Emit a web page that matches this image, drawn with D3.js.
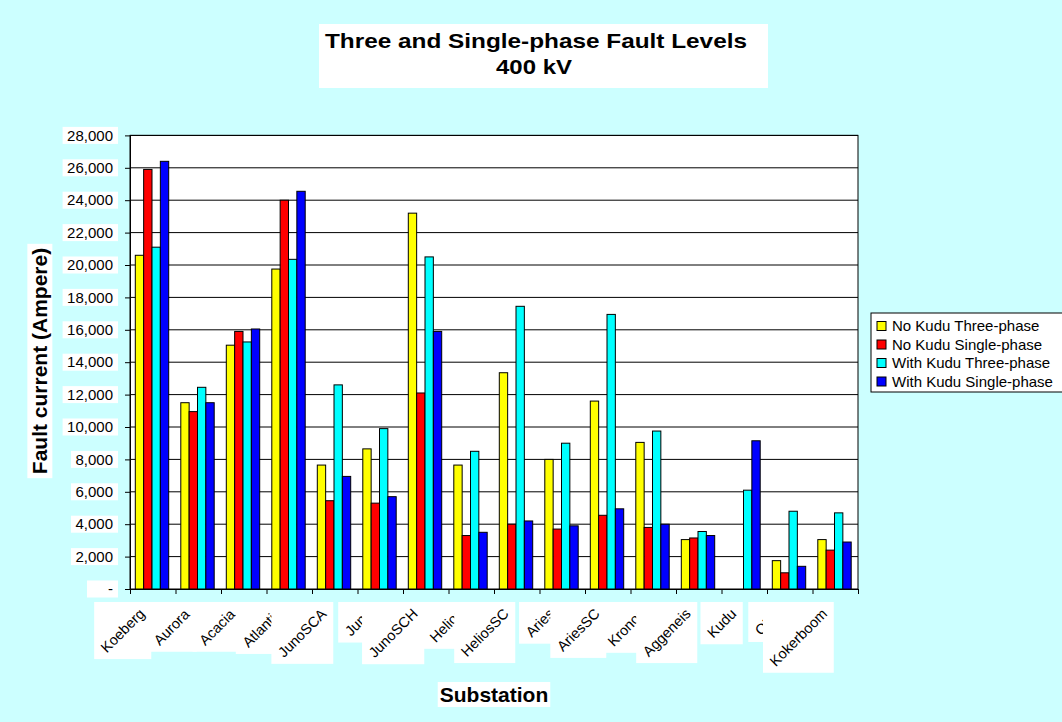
<!DOCTYPE html>
<html lang="en">
<head>
<meta charset="UTF-8">
<title>Three and Single-phase Fault Levels</title>
<script src="https://cdn.jsdelivr.net/npm/d3@7"></script>
<style>
    body { margin: 0; background: #ccffff; }
    svg { display: block; font-family: Arial, "Liberation Sans", sans-serif; }
</style>
</head>
<body>
<script type="text/javascript">
    var categories = ['Koeberg', 'Aurora', 'Acacia', 'Atlantis', 'JunoSCA', 'Juno', 'JunoSCH', 'Helios',
        'HeliosSC', 'Aries', 'AriesSC', 'Kronos', 'Aggeneis', 'Kudu', 'Obib', 'Kokerboom'];
    var noKuduThree = [20600, 11500, 15050, 19750, 7650, 8650, 23200, 7650, 13350, 8000, 11600, 9050, 3050, null, 1750, 3050];
    var noKuduSingle = [25900, 10950, 15900, 24000, 5450, 5300, 12100, 3300, 4000, 3700, 4550, 3800, 3150, null, 1000, 2400];
    var withKuduThree = [21100, 12450, 15250, 20350, 12600, 9900, 20500, 8500, 17450, 9000, 16950, 9750, 3550, 6100, 4800, 4700];
    var withKuduSingle = [26400, 11500, 16050, 24550, 6950, 5700, 15900, 3500, 4200, 3900, 4950, 4000, 3300, 9150, 1400, 2900];
    var seriesNames = ['No Kudu Three-phase', 'No Kudu Single-phase', 'With Kudu Three-phase', 'With Kudu Single-phase'];
    var seriesColors = ['#ffff00', '#ff0000', '#00ffff', '#0000ff'];
    var yTickValues = [0, 2000, 4000, 6000, 8000, 10000, 12000, 14000, 16000, 18000, 20000, 22000, 24000, 26000, 28000];

    var series = [noKuduThree, noKuduSingle, withKuduThree, withKuduSingle];
    var W = 1062, H = 722;
    var plotL = 130, plotR = 858, plotT = 135.4, plotB = 589;

    var svg = d3.select('body').append('svg')
            .attr('width', W)
            .attr('height', H);

    svg.append('rect')
            .attr('width', W).attr('height', H)
            .attr('fill', '#ccffff');

    var x = d3.scaleBand().domain(categories).range([plotL, plotR]);
    var xs = d3.scaleBand().domain(d3.range(series.length)).range([5.3, x.bandwidth() - 6.8]);
    var xEdge = d3.scaleLinear().domain([0, categories.length]).range([plotL, plotR]);
    var y = d3.scaleLinear().domain([0, 28000]).range([plotB, plotT]);
    var fmt = d3.format(',');

    // plot area
    svg.append('rect')
            .attr('x', plotL).attr('y', plotT)
            .attr('width', plotR - plotL).attr('height', plotB - plotT)
            .attr('fill', '#fff')
            .attr('stroke', '#000');

    svg.append('g').selectAll('line')
            .data(yTickValues.filter(function (d) { return d > 0; }))
            .enter().append('line')
            .attr('x1', plotL).attr('x2', plotR)
            .attr('y1', function (d) { return y(d); })
            .attr('y2', function (d) { return y(d); })
            .attr('stroke', '#000')
            .attr('stroke-width', 1);

    // bars
    series.forEach(function (vals, s) {
        svg.append('g').selectAll('rect')
                .data(vals.map(function (v, i) { return {c: categories[i], v: v}; })
                        .filter(function (d) { return d.v != null; }))
                .enter().append('rect')
                .attr('x', function (d) { return x(d.c) + xs(s); })
                .attr('y', function (d) { return y(d.v); })
                .attr('width', xs.bandwidth())
                .attr('height', function (d) { return y(0) - y(d.v); })
                .attr('fill', seriesColors[s])
                .attr('stroke', '#000')
                .attr('stroke-width', 1);
    });

    // axes
    svg.append('g')
            .attr('transform', 'translate(' + plotL + ',0)')
            .call(d3.axisLeft(y).tickValues(yTickValues).tickSize(5).tickSizeOuter(0).tickFormat(''))
            .call(function (g) { g.selectAll('line,path').attr('stroke', '#000'); });

    svg.append('g')
            .attr('transform', 'translate(0,' + plotB + ')')
            .call(d3.axisBottom(xEdge).tickValues(d3.range(categories.length + 1)).tickSize(5).tickSizeOuter(0).tickFormat(''))
            .call(function (g) { g.selectAll('line,path').attr('stroke', '#000'); });

    // y tick labels with white boxes
    yTickValues.forEach(function (v) {
        var g = svg.append('g');
        var box = g.append('rect').attr('fill', '#fff');
        var t = g.append('text')
                .attr('x', 113).attr('y', y(v))
                .attr('dy', '0.35em')
                .attr('text-anchor', 'end')
                .attr('font-size', 15)
                .attr('fill', '#000')
                .text(v === 0 ? '-' : fmt(v));
        var bb = t.node().getBBox();
        var bw = v === 0 ? 31 : bb.width + 9.5;
        box.attr('x', 118 - bw).attr('y', y(v) - 8.5)
                .attr('width', bw).attr('height', 17);
    });

    // x labels, each with its own white box, later ones covering earlier ones
    categories.forEach(function (c) {
        var g = svg.append('g');
        var box = g.append('rect').attr('fill', '#fff');
        var t = g.append('text')
                .attr('transform', 'rotate(-45)')
                .attr('text-anchor', 'end')
                .attr('font-size', 14.5)
                .attr('fill', '#000')
                .text(c);
        var bb = t.node().getBoundingClientRect();
        var pad = 3.5;
        var bw = bb.width + 2 * pad, bh = bb.height + 2 * pad;
        var bx = x(c) + x.bandwidth() / 2 - 1.5 - bw, by = 602;
        g.attr('transform', 'translate(' + (bx - (bb.x - pad)) + ',' + (by - (bb.y - pad)) + ')');
        box.attr('x', bb.x - pad).attr('y', bb.y - pad).attr('width', bw).attr('height', bh);
    });

    // title
    svg.append('rect')
            .attr('x', 319).attr('y', 24)
            .attr('width', 449).attr('height', 64)
            .attr('fill', '#fff');
    svg.append('text')
            .attr('x', 536).attr('y', 48)
            .attr('text-anchor', 'middle')
            .attr('font-size', 21).attr('font-weight', 'bold')
            .attr('textLength', 422).attr('lengthAdjust', 'spacingAndGlyphs')
            .text('Three and Single-phase Fault Levels');
    svg.append('text')
            .attr('x', 534).attr('y', 74)
            .attr('text-anchor', 'middle')
            .attr('font-size', 21).attr('font-weight', 'bold')
            .attr('textLength', 76).attr('lengthAdjust', 'spacingAndGlyphs')
            .text('400 kV');

    // y title
    var yt = svg.append('g').attr('transform', 'translate(40,361) rotate(-90)');
    var ytBox = yt.append('rect').attr('fill', '#fff');
    var ytText = yt.append('text')
            .attr('text-anchor', 'middle')
            .attr('dy', '0.35em')
            .attr('font-size', 21).attr('font-weight', 'bold')
            .text('Fault current (Ampere)');
    var yb = ytText.node().getBBox();
    ytBox.attr('x', yb.x - 4).attr('y', yb.y - 1).attr('width', yb.width + 8).attr('height', yb.height + 2);

    // x title
    var xt = svg.append('g');
    var xtBox = xt.append('rect').attr('fill', '#fff');
    var xtText = xt.append('text')
            .attr('x', (plotL + plotR) / 2).attr('y', 702)
            .attr('text-anchor', 'middle')
            .attr('font-size', 21).attr('font-weight', 'bold')
            .text('Substation');
    var xb = xtText.node().getBBox();
    xtBox.attr('x', xb.x - 2).attr('y', xb.y - 1).attr('width', xb.width + 4).attr('height', xb.height + 2);

    // legend
    var lg = svg.append('g').attr('transform', 'translate(871,313)');
    lg.append('rect')
            .attr('width', 200).attr('height', 79)
            .attr('fill', '#fff')
            .attr('stroke', '#000');
    var item = lg.selectAll('g.item')
            .data(seriesNames)
            .enter().append('g')
            .attr('class', 'item')
            .attr('transform', function (d, i) { return 'translate(0,' + (13 + i * 18.5) + ')'; });
    item.append('rect')
            .attr('x', 6).attr('y', -4.5)
            .attr('width', 9).attr('height', 9)
            .attr('fill', function (d, i) { return seriesColors[i]; })
            .attr('stroke', '#000');
    item.append('text')
            .attr('x', 21)
            .attr('dy', '0.35em')
            .attr('font-size', 15)
            .attr('fill', '#000')
            .text(function (d) { return d; });
</script>
</body>
</html>
